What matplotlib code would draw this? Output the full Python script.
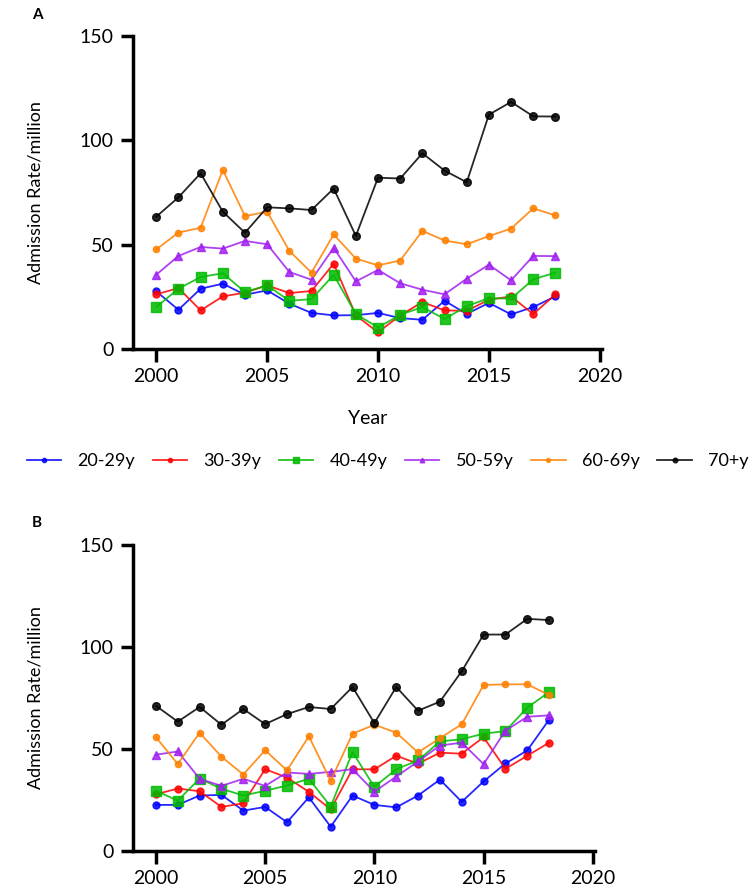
import numpy as np
import matplotlib
matplotlib.use("Agg")
import matplotlib.pyplot as plt

plt.rcParams['font.family'] = ['Lato', 'DejaVu Sans']

years = np.arange(2000, 2019)
groups = ['20-29y', '30-39y', '40-49y', '50-59y', '60-69y', '70+y']

# panel A admission rates
a_2029 = [27.6, 18.8, 28.9, 31.3, 26.0, 28.1, 21.7, 17.3, 16.1, 16.2, 17.3, 14.8, 14.0, 23.1, 16.8, 22.1, 16.6, 20.1, 25.2]
a_3039 = [26.2, 29.2, 18.5, 25.2, 27.0, 30.5, 26.8, 27.8, 40.9, 16.1, 8.0, 16.1, 22.5, 18.5, 18.3, 23.6, 25.2, 16.7, 26.2]
a_4049 = [20.1, 28.9, 34.5, 36.3, 27.3, 30.5, 23.1, 23.9, 35.5, 16.8, 10.3, 16.4, 20.1, 14.4, 20.5, 24.4, 24.1, 33.4, 36.6]
a_5059 = [35.6, 44.6, 48.9, 48.1, 51.8, 50.2, 36.9, 33.2, 48.5, 32.4, 37.9, 31.5, 28.4, 26.2, 33.7, 40.4, 32.9, 44.6, 44.5]
a_6069 = [47.7, 55.8, 58.1, 85.8, 63.7, 65.8, 47.0, 36.6, 54.9, 43.3, 40.1, 42.4, 56.6, 52.0, 50.2, 54.1, 57.7, 67.4, 64.0]
a_70 = [63.4, 72.7, 84.2, 65.8, 55.7, 67.9, 67.4, 66.6, 76.9, 54.2, 82.1, 81.7, 93.8, 85.5, 79.9, 112.3, 118.4, 111.5, 111.4]

# panel B admission rates
b_2029 = [22.6, 22.6, 27.2, 27.5, 19.8, 21.6, 14.1, 26.3, 11.9, 27.2, 22.6, 21.4, 27.2, 35.0, 24.1, 34.1, 42.9, 49.3, 64.4]
b_3039 = [27.8, 30.6, 29.3, 21.6, 23.4, 40.1, 36.0, 29.0, 20.4, 40.1, 40.0, 46.7, 42.8, 48.2, 47.7, 55.8, 40.3, 46.7, 53.1]
b_4049 = [29.5, 24.7, 35.5, 30.5, 27.2, 29.5, 32.1, 35.4, 21.8, 48.5, 31.4, 40.1, 44.4, 53.7, 54.8, 57.5, 58.8, 70.3, 77.9]
b_5059 = [47.2, 48.8, 35.4, 31.9, 35.4, 31.9, 38.5, 37.8, 38.8, 40.1, 29.1, 36.5, 43.9, 51.7, 53.1, 42.6, 59.0, 65.8, 66.5]
b_6069 = [55.8, 42.6, 58.0, 46.2, 37.5, 49.4, 39.5, 56.2, 34.4, 57.5, 61.9, 58.0, 48.3, 55.3, 62.1, 81.4, 81.7, 81.7, 76.5]
b_70 = [71.2, 63.4, 70.6, 61.9, 69.6, 62.2, 67.1, 70.6, 69.6, 80.4, 62.7, 80.4, 68.8, 73.2, 88.1, 106.1, 106.1, 113.8, 113.2]

colors = ['#0000ff', '#ff0000', '#00bb00', '#a020f0', '#ff8000', '#000000']
markers = ['o', 'o', 's', '^', 'o', 'o']
msizes = [5, 5, 6.5, 5.5, 4.5, 5.5]

fig = plt.figure(figsize=(7.49, 8.92), dpi=100)
axA = fig.add_axes([133 / 749, 1 - 349 / 892, 469 / 749, 313 / 892])
axB = fig.add_axes([133 / 749, 1 - 851 / 892, 462 / 749, 306 / 892])


def draw(ax, series):
    handles = []
    for vals, c, m, ms, name in zip(series, colors, markers, msizes, groups):
        h, = ax.plot(years, vals, color=c, marker=m, markersize=ms, lw=1.3,
                     label=name, alpha=0.85)
        handles.append(h)
    ax.set_xlim(1998.95, 2020.1)
    ax.set_ylim(0, 150)
    ax.set_xticks([2000, 2005, 2010, 2015, 2020])
    ax.set_yticks([0, 50, 100, 150])
    for s in ['top', 'right']:
        ax.spines[s].set_visible(False)
    for s in ['left', 'bottom']:
        ax.spines[s].set_linewidth(2.5)
    ax.tick_params(width=2.5, length=9, labelsize=14, pad=5)
    ax.set_ylabel('Admission Rate/million', fontsize=13)
    return handles


handles = draw(axA, [a_2029, a_3039, a_4049, a_5059, a_6069, a_70])
draw(axB, [b_2029, b_3039, b_4049, b_5059, b_6069, b_70])
axA.yaxis.set_label_coords((44 - 133) / 469, 0.5)
axB.yaxis.set_label_coords((44 - 133) / 462, 0.5)
axA.set_xlabel('Year', fontsize=14)
axA.xaxis.set_label_coords((368 - 133) / 469, (349 - 410) / 313)

fig.text(32 / 749, 1 - 15 / 892, 'A', fontsize=11, fontweight='bold', va='center')
fig.text(32 / 749, 1 - 523 / 892, 'B', fontsize=11, fontweight='bold', va='center')

fig.legend(handles=handles, loc='center left', bbox_to_anchor=(27 / 749, 1 - 461 / 892),
           ncol=6, frameon=False, fontsize=13, handlelength=1.9,
           handletextpad=0.9, columnspacing=0.98, markerscale=0.6,
           borderpad=0, borderaxespad=0)

fig.savefig('out.png', dpi=100)
